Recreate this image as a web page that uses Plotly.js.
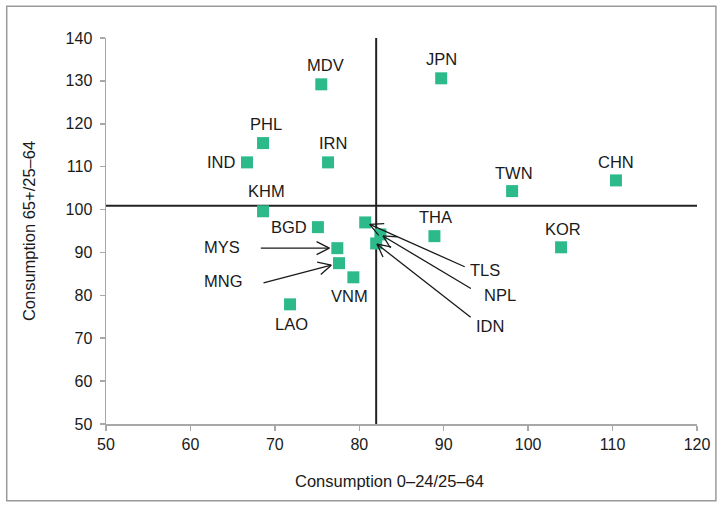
<!DOCTYPE html>
<html>
<head>
<meta charset="utf-8">
<script src="https://cdn.plot.ly/plotly-3.0.1.min.js"></script>
<style>html,body{margin:0;padding:0;background:#fff;}#chart{width:719px;height:510px;}</style>
</head>
<body>
<div id="chart"></div>
<script>
// ---- data ----
const countries = ['MDV','JPN','PHL','IRN','IND','TWN','CHN','KHM','BGD','TLS','NPL','IDN','THA','KOR','MYS','MNG','VNM','LAO'];
const youngRatio = [75.5, 89.7, 68.6, 76.3, 66.7, 98.1, 110.4, 68.6, 75.1, 80.7, 82.5, 82.0, 88.9, 103.9, 77.4, 77.6, 79.3, 71.8];
const oldRatio   = [129.2,130.6,115.5,111.0,111.0,104.3,106.8, 99.6, 95.9, 97.0, 94.2, 92.1, 93.8, 91.2, 91.0, 87.5, 84.2, 77.9];
const medianYoung = 82.0;
const medianOld = 100.9;
const xTicks = [50, 60, 70, 80, 90, 100, 110, 120];
const yTicks = [50, 60, 70, 80, 90, 100, 110, 120, 130, 140];
const xTitle = 'Consumption 0–24/25–64';
const yTitle = 'Consumption 65+/25–64';

// ---- label placement (pixel offsets from the point) ----
const labelStyle = {
  MDV:{dx:4,dy:-19}, JPN:{dx:0,dy:-19}, PHL:{dx:3,dy:-19}, IRN:{dx:5,dy:-19},
  IND:{dx:-26,dy:0}, TWN:{dx:2,dy:-18}, CHN:{dx:0,dy:-18}, KHM:{dx:3,dy:-20},
  BGD:{dx:-29,dy:0}, THA:{dx:1,dy:-19}, KOR:{dx:2,dy:-18}, VNM:{dx:-4,dy:19},
  LAO:{dx:1,dy:20},
  MYS:{dx:-115,dy:-1, arrow:{ax:-78,ay:0,standoff:8}},
  MNG:{dx:-116,dy:18, arrow:{ax:-77,ay:20,standoff:8}},
  TLS:{dx:120,dy:48, arrow:{ax:101,ay:45,standoff:5}},
  NPL:{dx:120,dy:61, arrow:{ax:92,ay:55,standoff:3}},
  IDN:{dx:114,dy:83, arrow:{ax:96,ay:75,standoff:1}}
};
const headLen = 16, headAngle = 27 * Math.PI / 180, lineW = 1.3, ink = '#1a1a1a';

const font = {family:'"Liberation Sans", Arial, Helvetica, sans-serif', color:ink};

const trace = {
  type:'scatter', mode:'markers',
  x: youngRatio, y: oldRatio, text: countries,
  hoverinfo:'text',
  marker:{symbol:'square', size:12, color:'#2dba8b', line:{width:0}},
  cliponaxis:false
};

const annotations = [];
countries.forEach((c,i) => {
  const s = labelStyle[c];
  annotations.push({
    x: youngRatio[i], y: oldRatio[i], xref:'x', yref:'y',
    text: c, showarrow:false, xshift: s.dx, yshift: -s.dy,
    font: Object.assign({}, font, {size:16.5})
  });
  if (s.arrow) {
    const a = s.arrow;
    const len = Math.hypot(a.ax, a.ay);
    const ux = a.ax / len, uy = a.ay / len;
    const tipX = ux * a.standoff, tipY = uy * a.standoff;
    // shaft
    annotations.push({
      x: youngRatio[i], y: oldRatio[i], xref:'x', yref:'y',
      text:'', showarrow:true, ax: a.ax, ay: a.ay,
      arrowhead:0, arrowwidth:lineW, arrowcolor:ink, standoff: a.standoff
    });
    // open V head: two short strokes from the tip
    [headAngle, -headAngle].forEach(th => {
      const vx = (ux * Math.cos(th) - uy * Math.sin(th)) * headLen;
      const vy = (ux * Math.sin(th) + uy * Math.cos(th)) * headLen;
      annotations.push({
        x: youngRatio[i], y: oldRatio[i], xref:'x', yref:'y',
        xshift: tipX, yshift: -tipY,
        text:'', showarrow:true, ax: vx, ay: vy,
        arrowhead:0, arrowwidth:lineW, arrowcolor:ink, standoff:0
      });
    });
  }
});
annotations.push({
  xref:'paper', yref:'paper', x:0.479, y:-0.1476, xanchor:'center', yanchor:'middle',
  text:xTitle, showarrow:false, font:Object.assign({}, font, {size:16.5})
});

const layout = {
  width:719, height:510,
  margin:{l:105.5, r:22, t:37.7, b:86},
  paper_bgcolor:'#ffffff', plot_bgcolor:'#ffffff',
  showlegend:false,
  font: Object.assign({}, font, {size:16}),
  xaxis:{
    range:[50,120], tickvals:xTicks, ticktext:xTicks.map(String),
    showgrid:false, zeroline:false, showline:true, linecolor:'#a8a8a8', linewidth:1.5,
    ticks:'outside', ticklen:5, tickcolor:'#a8a8a8', tickwidth:1.5,
    tickfont: Object.assign({}, font, {size:16}),
    fixedrange:true
  },
  yaxis:{
    range:[50,140], tickvals:yTicks, ticktext:yTicks.map(String),
    showgrid:false, zeroline:false, showline:true, linecolor:'#a8a8a8', linewidth:1.5,
    ticks:'outside', ticklen:5, tickcolor:'#a8a8a8', tickwidth:1.5,
    ticklabelstandoff:4,
    tickfont: Object.assign({}, font, {size:16}),
    title:{text:yTitle, font:Object.assign({}, font, {size:16.5}), standoff:26},
    fixedrange:true
  },
  shapes:[
    {type:'line', xref:'x', yref:'y', x0:medianYoung, x1:medianYoung, y0:50, y1:140,
     line:{color:'#222222', width:2}, layer:'below'},
    {type:'line', xref:'x', yref:'y', x0:50, x1:120, y0:medianOld, y1:medianOld,
     line:{color:'#222222', width:2}, layer:'below'},
    {type:'rect', xref:'paper', yref:'paper', x0:-0.168, x1:1.032, y0:-0.199, y1:1.082,
     line:{color:'#9a9a9a', width:1.5}, fillcolor:'rgba(0,0,0,0)', layer:'below'}
  ],
  annotations: annotations
};

Plotly.newPlot('chart', [trace], layout, {displayModeBar:false, staticPlot:true});
</script>
</body>
</html>
